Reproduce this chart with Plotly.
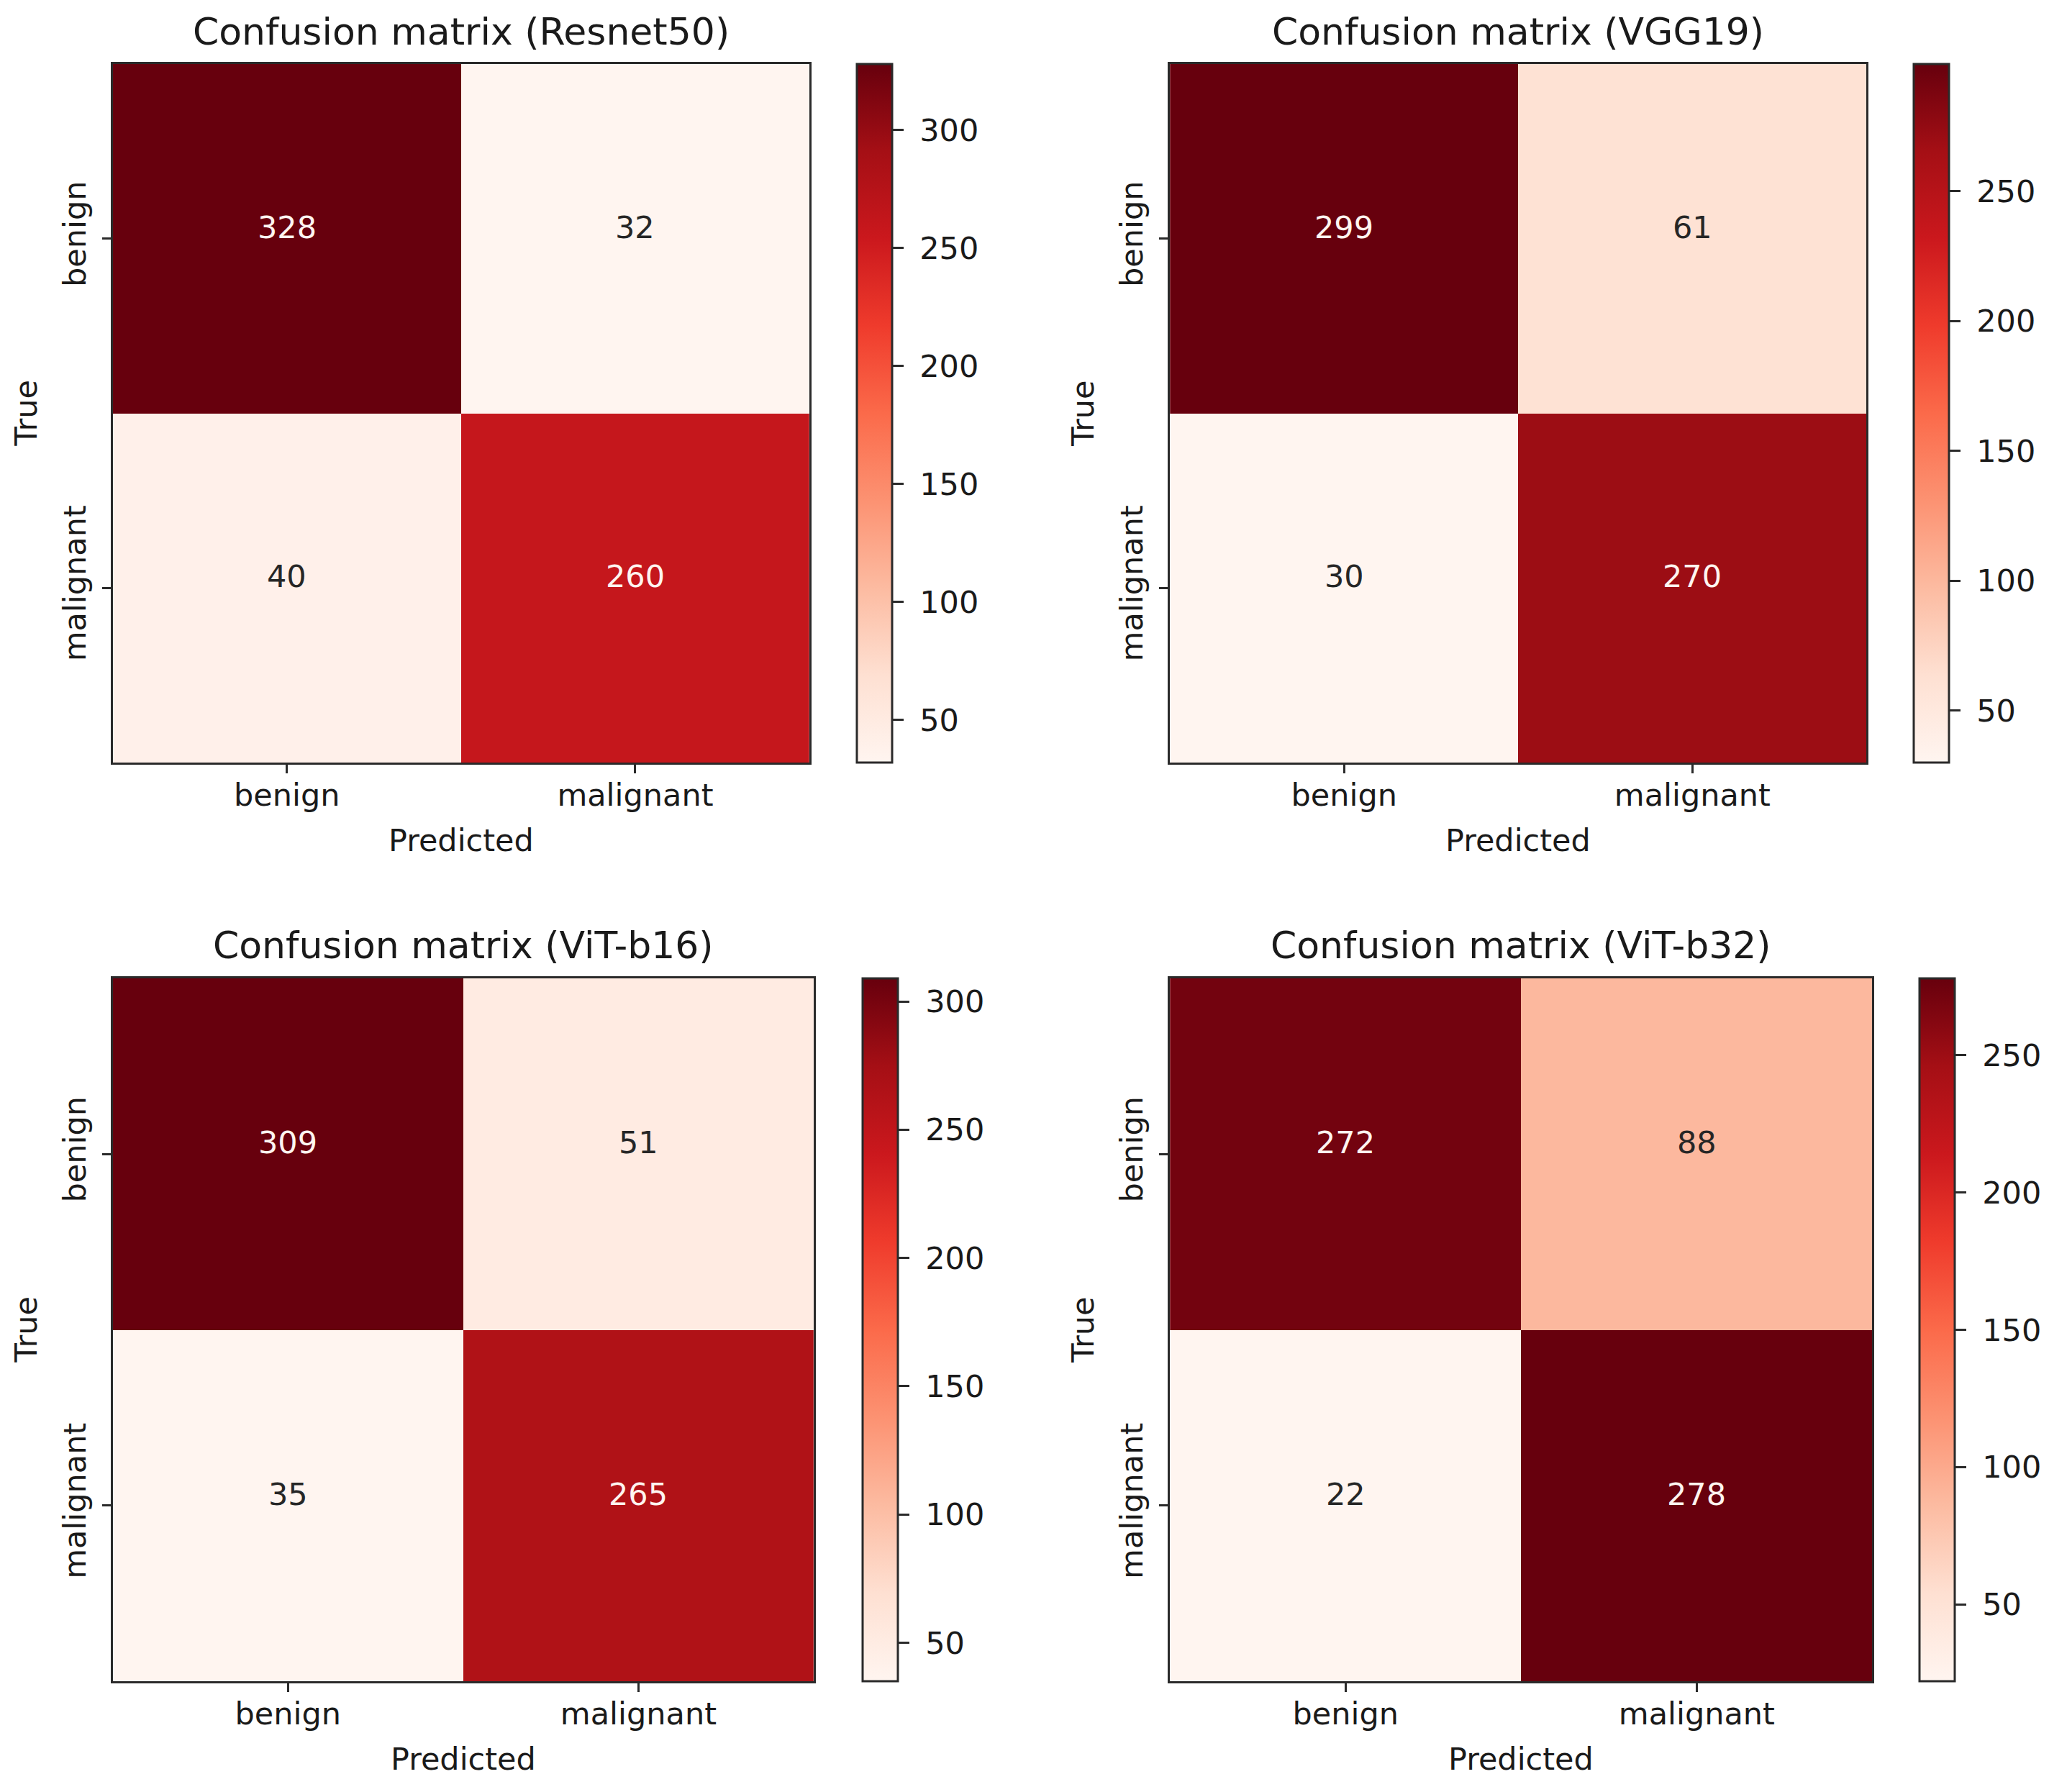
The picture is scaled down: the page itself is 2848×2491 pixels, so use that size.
import plotly.graph_objects as go
import plotly.colors as pc

# ---------------- data ----------------
class_labels = ["benign", "malignant"]
titles = [
    "Confusion matrix (Resnet50)",
    "Confusion matrix (VGG19)",
    "Confusion matrix (ViT-b16)",
    "Confusion matrix (ViT-b32)",
]
cm_resnet50 = [[328, 32], [40, 260]]
cm_vgg19 = [[299, 61], [30, 270]]
cm_vit_b16 = [[309, 51], [35, 265]]
cm_vit_b32 = [[272, 88], [22, 278]]
x_title = "Predicted"
y_title = "True"

matrices = [cm_resnet50, cm_vgg19, cm_vit_b16, cm_vit_b32]

# ---------------- layout geometry (page pixels) ----------------
PAGE_MARGIN = 8  # default body margin of the html page
W, H = 2848 - 2 * PAGE_MARGIN, 2491 - 2 * PAGE_MARGIN


def px(v):
    return v - PAGE_MARGIN


# heatmap boxes: (left, right, top, bottom) in page pixels
boxes = [
    (157, 1127, 89, 1060),
    (1629, 2599, 89, 1060),
    (157, 1133, 1360, 2337),
    (1629, 2607, 1360, 2337),
]
cbar_left = [1193, 2665, 1201, 2673]
cbar_thick = 49
title_y = [44, 44, 1314, 1314]
pred_y = [1168, 1168, 2445, 2445]
true_x = [36, 1507, 36, 1507]

FONT = "DejaVu Sans"
FS = 43
TXT = "#1a1a1a"
LINE = "#2a2a2a"

reds = pc.sequential.Reds
n = len(reds)
colorscale = [[i / (n - 1), c] for i, c in enumerate(reds)]
light_txt = reds[0]
dark_txt = "#262626"

fig = go.Figure()
annotations = []
layout_axes = {}

for k, (cm, title, box) in enumerate(zip(matrices, titles, boxes)):
    l, r, t, b = [px(v) for v in box]
    xa = "x" if k == 0 else f"x{k+1}"
    ya = "y" if k == 0 else f"y{k+1}"
    xkey = "xaxis" if k == 0 else f"xaxis{k+1}"
    ykey = "yaxis" if k == 0 else f"yaxis{k+1}"
    flat = [v for row in cm for v in row]
    zmin, zmax = min(flat), max(flat)
    fig.add_trace(go.Heatmap(
        z=cm, x=class_labels, y=class_labels,
        xaxis=xa, yaxis=ya,
        colorscale=colorscale, zmin=zmin, zmax=zmax,
        hoverinfo="skip",
        colorbar=dict(
            x=px(cbar_left[k]) / W, xanchor="left", xpad=0,
            y=1 - t / H, yanchor="top", ypad=0,
            len=(b - t) / H, lenmode="fraction",
            thickness=cbar_thick, thicknessmode="pixels",
            outlinewidth=3, outlinecolor=LINE,
            ticks="outside", ticklen=15, tickwidth=3, tickcolor=LINE,
            tick0=0, dtick=50, tickprefix="\u00a0",
            tickfont=dict(family=FONT, size=FS, color=TXT),
        ),
    ))
    axis_common = dict(
        showline=True, linewidth=3, linecolor=LINE, mirror=True,
        ticks="outside", ticklen=12, tickwidth=3, tickcolor=LINE,
        tickfont=dict(family=FONT, size=FS, color=TXT),
        showgrid=False, zeroline=False, fixedrange=True,
        type="category",
    )
    layout_axes[xkey] = dict(
        axis_common, domain=[l / W, r / W], anchor=ya,
        range=[-0.5, 1.5], ticklabelstandoff=-7,
    )
    layout_axes[ykey] = dict(
        axis_common, domain=[1 - b / H, 1 - t / H], anchor=xa,
        range=[1.5, -0.5], tickangle=-90, ticklabelstandoff=6,
    )
    thresh = (zmin + zmax) / 2.0
    for i, row in enumerate(cm):
        for j, v in enumerate(row):
            annotations.append(dict(
                x=class_labels[j], y=class_labels[i], xref=xa, yref=ya,
                text=str(v), showarrow=False, yshift=16,
                font=dict(family=FONT, size=FS,
                          color=light_txt if v > thresh else dark_txt),
            ))
    cx = (l + r) / 2 / W
    annotations.append(dict(
        x=cx, y=1 - px(title_y[k]) / H, xref="paper", yref="paper",
        text=title, showarrow=False, xanchor="center", yanchor="middle",
        font=dict(family=FONT, size=52, color=TXT),
    ))
    annotations.append(dict(
        x=cx, y=1 - px(pred_y[k]) / H, xref="paper", yref="paper",
        text=x_title, showarrow=False, xanchor="center", yanchor="middle",
        font=dict(family=FONT, size=FS, color=TXT),
    ))
    annotations.append(dict(
        x=px(true_x[k]) / W, y=1 - (t + b) / 2 / H, xref="paper", yref="paper",
        text=y_title, showarrow=False, xanchor="center", yanchor="middle",
        textangle=-90,
        font=dict(family=FONT, size=FS, color=TXT),
    ))

fig.update_layout(
    width=W, height=H,
    margin=dict(l=0, r=0, t=0, b=0),
    paper_bgcolor="white", plot_bgcolor="white",
    showlegend=False,
    annotations=annotations,
    font=dict(family=FONT, size=FS, color=TXT),
    **layout_axes,
)

fig.write_html("out.html")
